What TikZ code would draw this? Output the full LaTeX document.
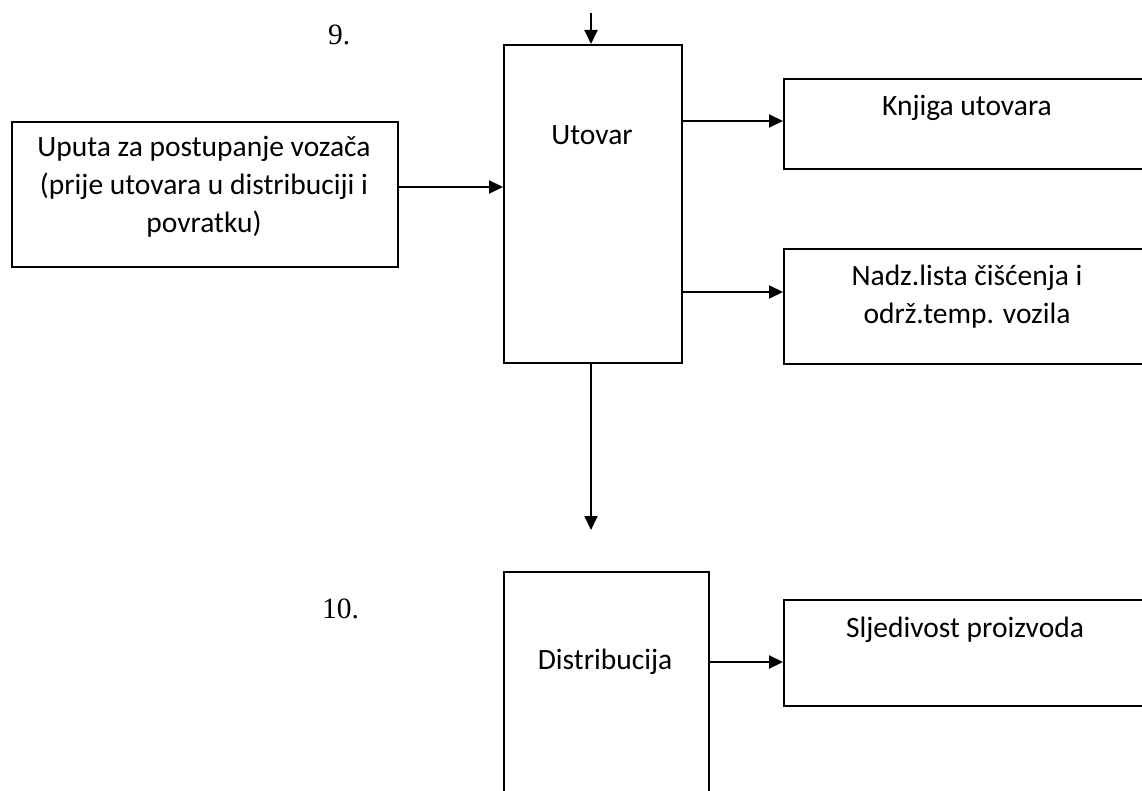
\documentclass[tikz,border=0pt]{standalone}
\usepackage{fontspec}
\setmainfont{Carlito}
\newfontfamily\numfont{Liberation Serif}
\usetikzlibrary{arrows.meta,calc}
\begin{document}
\begin{tikzpicture}[x=1pt,y=-1pt,
  box/.style={draw,line width=1.7pt,inner sep=0pt,anchor=north west},
  lbl/.style={align=center,inner sep=0pt,font=\fontsize{29.5}{38}\selectfont},
  num/.style={inner sep=0pt,anchor=base west,font=\numfont\fontsize{29.5}{34}\selectfont},
  arr/.style={line width=2pt,-{Triangle[length=14pt,width=13pt]}}]
\useasboundingbox (0,0) rectangle (1142,791);
\clip (0,0) rectangle (1142,791);
% boxes
\node[box,minimum width=178pt,minimum height=318pt] (utovar) at (503,44) {};
\node[box,minimum width=386pt,minimum height=145pt] (uputa) at (11,121) {};
\node[box,minimum width=380pt,minimum height=90pt] (knjiga) at (783,78) {};
\node[box,minimum width=380pt,minimum height=115pt] (nadz) at (783,248) {};
\node[box,minimum width=205pt,minimum height=240pt] (distr) at (503,571) {};
\node[box,minimum width=380pt,minimum height=106pt] (sljed) at (783,599) {};
% texts
\node[lbl] (tutovar) at (592,135) {Utovar};
\node[lbl] (tuputa) at (204,187) {Uputa za postupanje vozača\\(prije utovara u distribuciji i\\povratku)};
\node[lbl] (tknjiga) at (967,108) {Knjiga utovara};
\node[lbl] (tnadz) at (967,296.5) {Nadz.lista čišćenja i\\održ.temp. vozila};
\node[lbl] (tdistr) at (605,662) {Distribucija};
\node[lbl] (tsljed) at (965,630) {Sljedivost proizvoda};
\node[num] (n9) at (328,45) {9.};
\node[num] (n10) at (322,618) {10.};
% connectors
\coordinate (topin) at (591,13);
\coordinate (downend) at (591,530);
\draw[arr] (topin) -- (topin |- utovar.north);
\draw[arr] (uputa.east |- tuputa) -- (utovar.west |- tuputa);
\draw[arr] ($(utovar.north east)+(0,77)$) -- ($(knjiga.north west)+(0,43)$);
\draw[arr] ($(utovar.north east)+(0,248)$) -- ($(nadz.north west)+(0,44)$);
\draw[arr] (utovar.south -| topin) -- (downend);
\draw[arr] (distr.east |- tdistr) -- (sljed.west |- tdistr);
\end{tikzpicture}
\end{document}
